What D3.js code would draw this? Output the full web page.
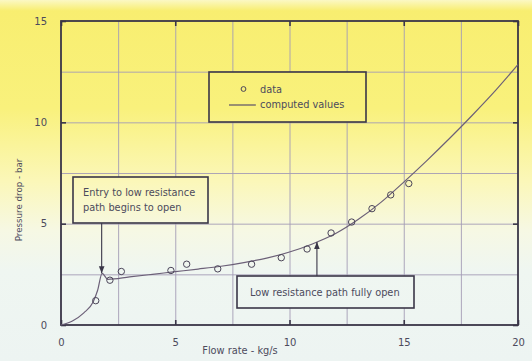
<!DOCTYPE html>
<html>
<head>
<meta charset="utf-8">
<script src="https://cdn.jsdelivr.net/npm/d3@7"></script>
<style>
  body { margin: 0; background: #fff; }
  svg { display: block; }
  text { font-family: "DejaVu Sans", sans-serif; fill: #4c4a5c; }
</style>
</head>
<body>
<div id="vis"></div>
<script>
// chart size
const width = 532, height = 361;
const margin = {top: 21, right: 14, bottom: 36, left: 61};

// measured points (flow rate kg/s, pressure drop bar)
const dataX = [1.52, 2.14, 2.64, 4.81, 5.5, 6.86, 8.34, 9.64, 10.77, 11.82, 12.72, 13.61, 14.43, 15.22];
const dataY = [1.20, 2.21, 2.64, 2.69, 3.0, 2.77, 3.0, 3.32, 3.75, 4.54, 5.08, 5.74, 6.42, 6.98];

// computed values curve
const curveX = [0, 0.5, 1.0, 1.4, 1.6, 1.8, 2.05, 3, 4, 5, 6, 7, 8, 9, 10, 11, 12, 13, 14, 15, 16, 17, 18, 19, 20];
const curveY = [0, 0.2, 0.6, 1.12, 1.7, 2.55, 2.25, 2.37, 2.5, 2.63, 2.76, 2.9, 3.08, 3.3, 3.6, 4.0, 4.5, 5.2, 6.05, 7.05, 8.1, 9.2, 10.35, 11.55, 12.85];

const xTicks = [0, 5, 10, 15, 20];
const yTicks = [0, 5, 10, 15];
const xGrid = [2.5, 5, 7.5, 10, 12.5, 15, 17.5];
const yGrid = [2.5, 5, 7.5, 10, 12.5];

const xTitle = "Flow rate - kg/s";
const yTitle = "Pressure drop - bar";
const legendLabels = ["data", "computed values"];
const note1 = ["Entry to low resistance", "path begins to open"];
const note2 = ["Low resistance path fully open"];
const note1At = [1.78, 2.55];   // arrow tip in data units
const note2At = [11.2, 4.1];

const svg = d3.select("#vis").append("svg")
    .attr("width", width)
    .attr("height", height);

// yellow wash fading out towards the bottom, shared by boxes
const defs = svg.append("defs");
const grad = defs.append("linearGradient")
    .attr("id", "bg")
    .attr("gradientUnits", "userSpaceOnUse")
    .attr("x1", 0).attr("y1", 0).attr("x2", 0).attr("y2", height);
[[0, "#fbf8c4"], [0.03, "#f8ee70"], [0.3, "#f9f17c"], [0.5, "#fbf7b8"], [0.64, "#f6f8e4"], [0.75, "#eff6f1"], [1, "#edf4f2"]]
    .forEach(s => grad.append("stop").attr("offset", s[0]).attr("stop-color", s[1]));

defs.append("marker")
    .attr("id", "arrow")
    .attr("viewBox", "0 0 10 10")
    .attr("refX", 10).attr("refY", 5)
    .attr("markerWidth", 7).attr("markerHeight", 7)
    .attr("markerUnits", "userSpaceOnUse")
    .attr("orient", "auto")
  .append("path")
    .attr("d", "M0,1 L10,5 L0,9 Z")
    .attr("fill", "#3a3648");

svg.append("rect")
    .attr("width", width).attr("height", height)
    .attr("fill", "url(#bg)");

const x = d3.scaleLinear().domain([0, 20]).range([margin.left, width - margin.right]);
const y = d3.scaleLinear().domain([0, 15]).range([height - margin.bottom, margin.top]);
const plotW = x(20) - x(0), plotH = y(0) - y(15);

// grid
svg.append("g")
    .attr("transform", `translate(0,${y(0)})`)
    .call(d3.axisBottom(x).tickValues(xGrid).tickSize(-plotH).tickFormat(""))
    .call(g => g.select(".domain").remove())
    .call(g => g.selectAll("line").attr("stroke", "#a49cb6").attr("stroke-width", 0.9));
svg.append("g")
    .attr("transform", `translate(${x(0)},0)`)
    .call(d3.axisLeft(y).tickValues(yGrid).tickSize(-plotW).tickFormat(""))
    .call(g => g.select(".domain").remove())
    .call(g => g.selectAll("line").attr("stroke", "#a49cb6").attr("stroke-width", 0.9));

// inside ticks on all four sides
function styleAxis(g) {
    g.select(".domain").remove();
    g.selectAll("line").attr("stroke", "#3a3648").attr("stroke-width", 1.6);
    g.selectAll("text").attr("fill", "#5a5868").style("font-size", "10px");
}
svg.append("g")
    .attr("transform", `translate(0,${y(0)})`)
    .call(d3.axisBottom(x).tickValues(xTicks).tickSizeInner(-5).tickSizeOuter(0).tickPadding(14))
    .call(styleAxis);
svg.append("g")
    .attr("transform", `translate(0,${y(15)})`)
    .call(d3.axisTop(x).tickValues(xTicks).tickSizeInner(-5).tickSizeOuter(0).tickFormat(""))
    .call(styleAxis);
svg.append("g")
    .attr("transform", `translate(${x(0)},0)`)
    .call(d3.axisLeft(y).tickValues(yTicks).tickSizeInner(-5).tickSizeOuter(0).tickPadding(14))
    .call(styleAxis);
svg.append("g")
    .attr("transform", `translate(${x(20)},0)`)
    .call(d3.axisRight(y).tickValues(yTicks).tickSizeInner(-5).tickSizeOuter(0).tickFormat(""))
    .call(styleAxis);

// frame
svg.append("rect")
    .attr("x", x(0)).attr("y", y(15))
    .attr("width", plotW).attr("height", plotH)
    .attr("fill", "none")
    .attr("stroke", "#3a3648")
    .attr("stroke-width", 1.8);

// axis titles
svg.append("text")
    .attr("x", 240).attr("y", 354)
    .attr("text-anchor", "middle")
    .style("font-size", "9.8px")
    .text(xTitle);
svg.append("text")
    .attr("transform", "translate(22,200) rotate(-90)")
    .attr("text-anchor", "middle")
    .style("font-size", "8.7px")
    .text(yTitle);

// computed curve
const pts = curveX.map((v, i) => [v, curveY[i]]);
svg.append("path")
    .attr("d", d3.line().x(d => x(d[0])).y(d => y(d[1])).curve(d3.curveMonotoneX)(pts))
    .attr("fill", "none")
    .attr("stroke", "#6c6078")
    .attr("stroke-width", 1.2);

// data circles
svg.append("g").selectAll("circle")
    .data(dataX.map((v, i) => [v, dataY[i]]))
    .join("circle")
    .attr("cx", d => x(d[0]))
    .attr("cy", d => y(d[1]))
    .attr("r", 3.2)
    .attr("fill", "none")
    .attr("stroke", "#4a4458")
    .attr("stroke-width", 1);

// legend
const leg = svg.append("g");
leg.append("rect")
    .attr("x", 209).attr("y", 72).attr("width", 157).attr("height", 50)
    .attr("fill", "url(#bg)").attr("stroke", "#3a3648").attr("stroke-width", 1.6);
leg.append("circle")
    .attr("cx", 243.5).attr("cy", 89).attr("r", 2.4)
    .attr("fill", "none").attr("stroke", "#4a4458");
leg.append("line")
    .attr("x1", 229).attr("x2", 256).attr("y1", 105).attr("y2", 105)
    .attr("stroke", "#5a5068").attr("stroke-width", 1.2);
leg.selectAll("text.lab")
    .data(legendLabels)
    .join("text")
    .attr("class", "lab")
    .attr("x", 260)
    .attr("y", (d, i) => 93 + i * 15)
    .style("font-size", "9.8px")
    .text(d => d);

// annotation 1
const a1 = svg.append("g");
a1.append("line")
    .attr("x1", x(note1At[0])).attr("x2", x(note1At[0]))
    .attr("y1", 223).attr("y2", y(note1At[1]))
    .attr("stroke", "#3a3648").attr("stroke-width", 1.1)
    .attr("marker-end", "url(#arrow)");
a1.append("rect")
    .attr("x", 73).attr("y", 177).attr("width", 135).attr("height", 46)
    .attr("fill", "url(#bg)").attr("stroke", "#3a3648").attr("stroke-width", 1.6);
a1.selectAll("text")
    .data(note1)
    .join("text")
    .attr("x", 83)
    .attr("y", (d, i) => 196 + i * 15)
    .style("font-size", "9.8px")
    .text(d => d);

// annotation 2
const a2 = svg.append("g");
a2.append("line")
    .attr("x1", x(note2At[0])).attr("x2", x(note2At[0]))
    .attr("y1", 276).attr("y2", y(note2At[1]))
    .attr("stroke", "#3a3648").attr("stroke-width", 1.1)
    .attr("marker-end", "url(#arrow)");
a2.append("rect")
    .attr("x", 237).attr("y", 276).attr("width", 177).attr("height", 32)
    .attr("fill", "url(#bg)").attr("stroke", "#3a3648").attr("stroke-width", 1.6);
a2.selectAll("text")
    .data(note2)
    .join("text")
    .attr("x", 250)
    .attr("y", 296)
    .style("font-size", "9.8px")
    .text(d => d);
</script>
</body>
</html>
